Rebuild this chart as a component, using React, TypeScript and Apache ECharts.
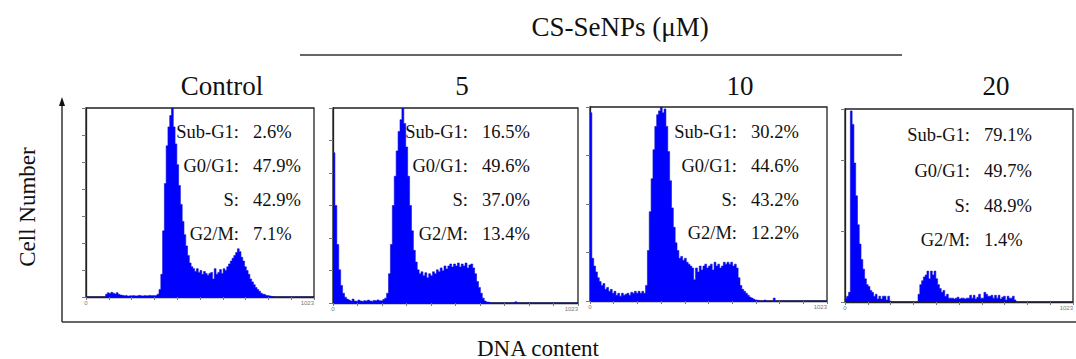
import React, { useEffect, useRef } from "react";
import * as echarts from "echarts";

// ---- Data (relative cell counts per 8-channel bin, 128 bins over 0..1023) ----
const controlBins = [
  0, 0, 0, 0, 0, 0, 0, 0, 0, 0, 0,
  1.5, 2.2, 1.8, 2.5, 2.0, 1.6, 2.3, 1.4, 1.0,
  0.8, 0.6, 0.9, 0.5, 0.7, 0.6, 0.8, 0.5, 0.6, 0.9, 0.7, 0.5, 0.8, 0.6, 0.7, 0.9, 0.6, 0.8, 0.7, 1.0, 1.5,
  4, 12, 35, 60, 80, 90, 96, 100, 90, 81, 70, 59, 49, 40, 33, 27, 22, 18,
  16, 15, 13.5, 15, 13, 14, 12, 13.5, 12.5, 11.5, 12.5, 13,
  9.5, 15, 12, 13, 14.5, 12.5, 15, 14, 16, 17.5,
  19, 20.5, 22, 23.5, 25.5, 24, 21, 19, 16, 14, 12,
  9.5, 8, 6.5, 5, 4, 3, 2, 1.5, 1.2, 0.8, 0.6, 0.4, 0.2,
  0, 0, 0, 0, 0, 0, 0, 0, 0, 0, 0, 0, 0, 0, 0, 0, 0, 0, 0, 0, 0, 0, 0,
];
const dose5Bins = [
  77, 50, 30, 17, 9, 5, 3, 2,
  1.5, 1, 2, 1, 0.8, 1.5, 1, 0.7, 1.2, 0.9, 1.5, 1, 0.8, 1.3, 1, 1.6, 1.2, 1, 1.8, 2.5,
  5, 15, 30, 50, 65, 78, 88, 94, 100, 92, 80, 65, 50, 37, 27, 21, 17, 15,
  16, 14, 15.5, 13, 15, 14, 16, 15, 17, 16, 18, 16.5, 19, 17.5, 19, 20, 18.5, 20, 19, 20.5, 18.5, 20, 19, 20.5, 18, 19.5, 20, 18,
  15, 11, 8, 5, 2.5, 1, 0.5, 0.3,
  0, 0, 0, 0, 0, 0, 0, 0, 0, 0, 0, 0, 0, 0.6, 0, 0, 0, 0, 0, 0, 0, 0, 0,
  0, 0, 0, 0, 0, 0, 0, 0, 0, 0, 0, 0, 0, 0, 0, 0, 0, 0, 0, 0, 0, 0, 0,
];
const dose10Bins = [
  97, 22, 18, 15, 12, 10, 8, 9, 6, 7, 5, 6, 4, 5, 3, 4, 2.5, 4, 3, 3.5, 4, 3, 4.5, 4, 5, 4, 5, 4, 5, 4,
  8, 26, 46, 63, 78, 90, 96, 98, 100, 97, 99, 90, 77, 62, 48, 38, 30, 26, 22,
  23, 21, 22, 20, 19, 18, 17, 11, 17, 15, 18, 16, 18, 19, 17, 18, 19, 16, 20, 18, 19, 17, 18, 20, 19, 20, 19, 20, 18, 19, 17,
  12, 8, 6, 5, 4, 3, 2, 1.5, 1, 0.5, 0.3,
  0, 0, 0, 0.5, 0, 0, 0, 0, 1.5, 0, 0, 0, 0, 0, 0, 0, 0, 0, 0,
  0, 0, 0, 0, 0, 0, 0, 0, 0, 0, 0, 0, 0, 0, 0, 0, 0, 0,
];
const dose20Bins = [
  2, 3, 5, 99, 92, 72, 55, 40, 30, 22, 17, 12, 9, 8, 6, 5, 3, 4, 1.5, 3, 1.5, 3, 3, 1, 3, 0.5,
  0, 0, 0, 0, 0, 0, 0, 0, 0, 0, 0, 0, 0, 0, 0,
  4, 9, 11, 13, 14, 16, 12, 16, 14, 16, 12, 9, 7, 5, 6, 3, 4, 2, 2,
  2, 1.5, 2, 2.5, 1.5, 2, 2, 1.5, 2, 2, 3.5, 2, 3.5, 1.5, 2.5, 4, 2, 2, 5, 4, 3, 3, 3.5, 2, 3.5, 2, 3.5, 1.5, 2.5, 3, 1, 3, 2, 2, 3, 1,
  0, 0, 0, 0, 0, 0, 0, 0, 0, 0, 0, 0, 0, 0, 0, 0,
  0, 0, 0, 0, 0, 0, 0, 0, 0, 0, 0, 0, 0, 0, 0, 0,
];

const panelTitles = ["Control", "5", "10", "20"];
const phaseLabels = ["Sub-G1:", "G0/G1:", "S:", "G2/M:"];
const controlPct = ["2.6%", "47.9%", "42.9%", "7.1%"];
const dose5Pct = ["16.5%", "49.6%", "37.0%", "13.4%"];
const dose10Pct = ["30.2%", "44.6%", "43.2%", "12.2%"];
const dose20Pct = ["79.1%", "49.7%", "48.9%", "1.4%"];
const xTickLabels = ["0", "1023"];

const groupTitle = "CS-SeNPs (μM)";
const yTitle = "Cell Number";
const xTitle = "DNA content";

// ---- Layout ----
const BIN_WIDTH = 8;
const X_MAX = 1024;
const SERIF = '"Liberation Serif", "Times New Roman", serif';

const panels = [
  { bins: controlBins, pct: controlPct, grid: { left: 86, top: 108, width: 228, height: 189 }, yInterval: 100 / 7, colonX: 239, rows: [132, 166, 200, 234] },
  { bins: dose5Bins, pct: dose5Pct, grid: { left: 333, top: 108, width: 245, height: 195 }, yInterval: 100 / 6, colonX: 468, rows: [132, 166, 200, 234] },
  { bins: dose10Bins, pct: dose10Pct, grid: { left: 590, top: 107, width: 237, height: 194 }, yInterval: 25, colonX: 737, rows: [132, 166, 200, 233] },
  { bins: dose20Bins, pct: dose20Pct, grid: { left: 845, top: 109, width: 240, height: 193 }, yInterval: 36.6, colonX: 970, rows: [135, 171, 206, 240] },
];

function toSteps(bins: number[]) {
  const pts: number[][] = bins.map((v, i) => [i * BIN_WIDTH, v]);
  pts.push([bins.length * BIN_WIDTH, bins[bins.length - 1]]);
  return pts;
}

export default function App() {
  const ref = useRef<HTMLDivElement>(null);

  useEffect(() => {
    document.body.style.margin = "0";
    if (!ref.current) return;
    const chart = echarts.init(ref.current, null, { renderer: "svg" });

    const graphic: any[] = [];
    graphic.push({
      type: "text", x: 620, y: 27,
      style: { text: groupTitle, fontFamily: SERIF, fontSize: 27, fill: "#111", align: "center", verticalAlign: "middle" },
    });
    graphic.push({ type: "line", shape: { x1: 300, y1: 55, x2: 902, y2: 55 }, style: { stroke: "#333", lineWidth: 1.3 } });
    const titleX = [222, 462, 740, 996];
    panelTitles.forEach((t, i) => {
      graphic.push({
        type: "text", x: titleX[i], y: 86,
        style: { text: t, fontFamily: SERIF, fontSize: 27, fill: "#111", align: "center", verticalAlign: "middle" },
      });
    });
    panels.forEach((p) => {
      phaseLabels.forEach((lab, r) => {
        graphic.push({
          type: "text", x: p.colonX, y: p.rows[r],
          style: { text: lab, fontFamily: SERIF, fontSize: 18.5, fill: "#111", align: "right", verticalAlign: "middle" },
        });
        graphic.push({
          type: "text", x: p.colonX + 14, y: p.rows[r],
          style: { text: p.pct[r], fontFamily: SERIF, fontSize: 18.5, fill: "#111", align: "left", verticalAlign: "middle" },
        });
      });
    });
    graphic.push({ type: "line", shape: { x1: 62, y1: 104, x2: 62, y2: 322 }, style: { stroke: "#333", lineWidth: 1.5 } });
    graphic.push({ type: "line", shape: { x1: 62, y1: 322, x2: 1076, y2: 322 }, style: { stroke: "#333", lineWidth: 1.5 } });
    graphic.push({ type: "polygon", shape: { points: [[62, 97], [59, 106], [65, 106]] }, style: { fill: "#111" } });
    graphic.push({
      type: "text", x: 27, y: 207, rotation: Math.PI / 2,
      style: { text: yTitle, fontFamily: SERIF, fontSize: 23, fill: "#111", align: "center", verticalAlign: "middle" },
    });
    graphic.push({
      type: "text", x: 538, y: 348,
      style: { text: xTitle, fontFamily: SERIF, fontSize: 23, fill: "#111", align: "center", verticalAlign: "middle" },
    });

    const option: any = {
      animation: false,
      backgroundColor: "#ffffff",
      grid: panels.map((p) => ({ ...p.grid, show: true, borderColor: "#222", borderWidth: 1.3, backgroundColor: "transparent", containLabel: false })),
      xAxis: panels.map((p, i) => ({
        gridIndex: i, type: "value", min: 0, max: X_MAX, interval: X_MAX / 10,
        axisLine: { show: true, lineStyle: { color: "#222", width: 1.3 } },
        axisTick: { show: true, length: 3, lineStyle: { color: "#777", width: 1 } },
        splitLine: { show: false },
        axisLabel: {
          show: true, fontSize: 6, color: "#777", margin: 3, fontFamily: "Arial, sans-serif",
          showMinLabel: true, showMaxLabel: true, alignMaxLabel: "right", hideOverlap: false,
          formatter: (v: number) => (Math.abs(v) < 0.5 ? xTickLabels[0] : Math.abs(v - X_MAX) < 0.5 ? xTickLabels[1] : ""),
        },
      })),
      yAxis: panels.map((p, i) => ({
        gridIndex: i, type: "value", min: 0, max: 100, interval: p.yInterval,
        axisLine: { show: true, lineStyle: { color: "#222", width: 1.3 } },
        axisTick: { show: true, length: 4, lineStyle: { color: "#777", width: 1 } },
        axisLabel: { show: false },
        splitLine: { show: false },
      })),
      series: panels.map((p, i) => ({
        type: "line", xAxisIndex: i, yAxisIndex: i, step: "end", symbol: "none",
        data: toSteps(p.bins), clip: true,
        lineStyle: { color: "#1010d0", width: 0.6 },
        areaStyle: { color: "#0000ff", opacity: 1 },
      })),
      graphic,
    };
    chart.setOption(option);
    return () => chart.dispose();
  }, []);

  return <div ref={ref} style={{ width: 1076, height: 359 }} />;
}
